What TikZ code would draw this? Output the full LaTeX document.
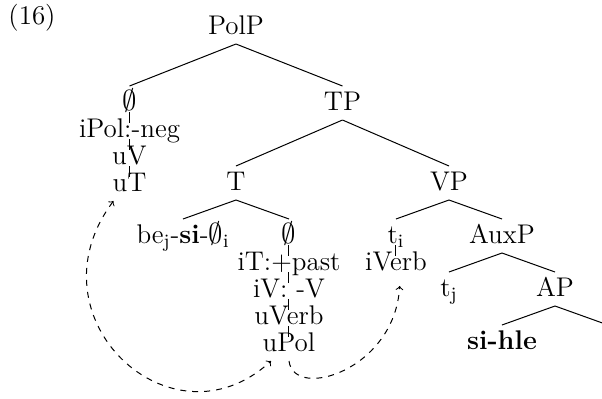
\documentclass[tikz,border=0pt]{standalone}

\begin{document}
\begin{tikzpicture}
[
	x	= 0.5pt,	% one unit is one pixel of the sketch
	y	= -0.5pt,	% y grows downwards
	line width	= 0.5pt,
	%
	%
	% ----------- options for the tree --------------
	parent anchor	= south,
	child anchor	= north,
	%
	every node/.style =
	{
		font		= \fontsize{13.5}{16}\selectfont,
		inner xsep	= 1pt,
		inner ysep	= 2.25pt,
		text height	= 9.5pt,
		text depth	= 2.5pt
	},
	%
	level 1/.style =
	{
		sibling distance	= 106.5pt,
		level distance		= 38pt
	},
	%
	level 2/.style =
	{
		sibling distance	= 106.5pt,
		level distance		= 40pt
	},
	%
	level 3/.style =
	{
		sibling distance	= 53pt,
		level distance		= 26.5pt
	},
	%
	level 4/.style =
	{
		sibling distance	= 53pt,
		level distance		= 26.5pt
	},
	%
	level 5/.style =
	{
		sibling distance	= 53pt,
		level distance		= 26.5pt
	},
	%
	% stacked features under one head
	feat/.style =
	{
		level distance	= 13.5pt,
		edge from parent path =
		{
			([yshift=-1pt]\tikzparentnode.base) -- ([yshift=7pt]\tikzchildnode.base)
		}
	},
	%
	agree/.style =
	{
		dashed,
		line width	= 0.5pt
	}
]

\useasboundingbox (0,0) rectangle (602,398);

\node (exnum) at (32,17) {(16)};

% actual tree
\node (polp) at (236,27) {PolP}
child
{
	node (nullpol) {$\emptyset$}
	child[feat]
	{
		node (ipol) {iPol:-neg}
		child[feat]
		{
			node (uv) {uV}
			child[feat]
			{
				node (ut) {uT}
			}
		}
	}
}
child
{
	node (tp) {TP}
	child
	{
		node (t) {T}
		child
		{
			node (bej) {be\textsubscript{j}-\textbf{si}-$\emptyset$\textsubscript{i}}
		}
		child
		{
			node (nullt) {$\emptyset$}
			child[feat]
			{
				node (it) {iT:+past}
				child[feat]
				{
					node (iv) {iV: -V}
					child[feat]
					{
						node (uverb) {uVerb}
						child[feat]
						{
							node (upol) {uPol}
						}
					}
				}
			}
		}
	}
	child
	{
		node (vp) {VP}
		child
		{
			node (ti) {t\textsubscript{i}}
			child[feat]
			{
				node (iverb) {iVerb}
			}
		}
		child
		{
			node (auxp) {AuxP}
			child
			{
				node (tj) {t\textsubscript{j}}
			}
			child
			{
				node (ap) {AP}
				child
				{
					node (sihle) {\textbf{si-hle}}
				}
				child
				{
					node (apgap) {}
				}
			}
		}
	}
};

% agreement arrows
\draw[agree, <->] ([xshift=-8pt]ut.south) .. controls +(-87,116) and +(-100,92) .. ([xshift=-9pt]upol.south);
\draw[agree, ->, shorten >=3pt] (upol.south) .. controls +(5,40) and +(-5,90) .. ([xshift=2pt]iverb.south);

\end{tikzpicture}
\end{document}
